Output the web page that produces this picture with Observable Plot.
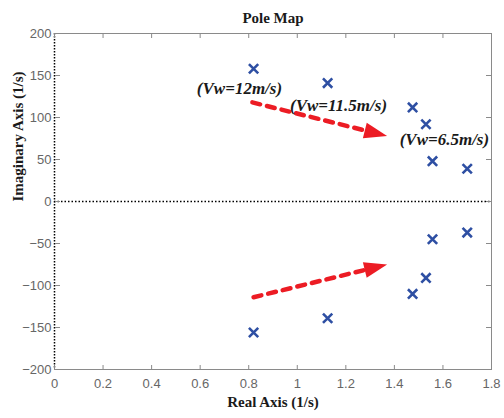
<!DOCTYPE html>
<html><head><meta charset="utf-8">
<script src="https://cdn.jsdelivr.net/npm/d3@7"></script>
<script src="https://cdn.jsdelivr.net/npm/@observablehq/plot@0.6"></script>
<style>body{margin:0;background:#fff}</style>
</head><body><div id="chart"></div>
<script>
// ---- data ----
const poleRe = [0.82, 1.125, 1.475, 1.53, 1.557, 1.70, 0.82, 1.125, 1.475, 1.53, 1.557, 1.70];
const poleIm = [158, 141, 112, 92, 48, 39, -156, -139, -110, -91, -45, -37];
const xTicks = [0, 0.2, 0.4, 0.6, 0.8, 1, 1.2, 1.4, 1.6, 1.8];
const yTicks = [-200, -150, -100, -50, 0, 50, 100, 150, 200];
const labelText = ["(Vw=12m/s)", "(Vw=11.5m/s)", "(Vw=6.5m/s)"];
const labelRe = [0.762, 1.17, 1.606];
const labelIm = [135, 114, 74];
const arrowStartRe = [0.815, 0.82];
const arrowStartIm = [118, -114];
const arrowTipRe = [1.37, 1.37];
const arrowTipIm = [78, -75];
const titleText = "Pole Map";
const xLabel = "Real Axis (1/s)";
const yLabel = "Imaginary Axis (1/s)";

// ---- layout ----
const W = 504, H = 418, mL = 54, mR = 13, mT = 33, mB = 49;
const xDom = [0, 1.8], yDom = [-200, 200];
const kx = (W - mL - mR) / (xDom[1] - xDom[0]);
const ky = (H - mT - mB) / (yDom[1] - yDom[0]);
const shaftFrac = 0.85;

const poles = poleRe.map((x, i) => ({x, y: poleIm[i]}));
const labels = labelText.map((t, i) => ({t, x: labelRe[i], y: labelIm[i]}));
const arrows = arrowStartRe.map((x0, i) => {
  const y0 = arrowStartIm[i], x1 = arrowTipRe[i], y1 = arrowTipIm[i];
  const ang = Math.atan2(-(y1 - y0) * ky, (x1 - x0) * kx) * 180 / Math.PI;
  return {x0, y0, x1, y1, xs: x0 + (x1 - x0) * shaftFrac, ys: y0 + (y1 - y0) * shaftFrac, ang};
});
const head = {draw(ctx) { ctx.moveTo(0, 0); ctx.lineTo(-23, -8); ctx.lineTo(-23, 8); ctx.closePath(); }};

const red = "#ec1c24", blue = "#2e4fa3", gray = "#8a8a8a", tickTxt = "#666";
const serif = "Liberation Serif, Times New Roman, serif";
const sans = "Liberation Sans, Arial, sans-serif";

const chart = Plot.plot({
  width: W, height: H,
  marginLeft: mL, marginRight: mR, marginTop: mT, marginBottom: mB,
  x: {domain: xDom},
  y: {domain: yDom},
  style: {background: "#fff", overflow: "visible"},
  marks: [
    // frame
    Plot.ruleY([yDom[0], yDom[1]], {stroke: gray, strokeWidth: 1}),
    Plot.ruleX([xDom[1]], {stroke: gray, strokeWidth: 1}),
    Plot.ruleX([0], {stroke: "#000", strokeWidth: 1.5, strokeDasharray: "1.5,1.5"}),
    Plot.ruleY([0], {stroke: "#000", strokeWidth: 1.5, strokeDasharray: "1.5,2"}),
    // inward ticks
    Plot.axisX(xTicks, {anchor: "top", frameAnchor: "bottom", tickSize: 5, text: null, label: null, stroke: gray}),
    Plot.axisX(xTicks, {anchor: "bottom", frameAnchor: "top", tickSize: 5, text: null, label: null, stroke: gray}),
    Plot.axisY(yTicks, {anchor: "right", frameAnchor: "left", tickSize: 5, text: null, label: null, stroke: gray}),
    Plot.axisY(yTicks, {anchor: "left", frameAnchor: "right", tickSize: 5, text: null, label: null, stroke: gray}),
    // tick labels
    Plot.axisX(xTicks, {anchor: "bottom", tickSize: 0, tickPadding: 9, label: null, tickFormat: d3.format("~g"), fontSize: 13, fontFamily: sans, color: tickTxt}),
    Plot.axisY(yTicks, {anchor: "left", tickSize: 0, tickPadding: 3, label: null, tickFormat: d3.format("~g"), fontSize: 13, fontFamily: sans, color: tickTxt}),
    // arrows
    Plot.link(arrows, {x1: "x0", y1: "y0", x2: "xs", y2: "ys", stroke: red, strokeWidth: 4.5, strokeDasharray: "8,7", strokeLinecap: "round"}),
    Plot.dot(arrows, {x: "x1", y: "y1", symbol: head, rotate: "ang", fill: red, stroke: "none"}),
    // poles
    Plot.dot(poles, {x: "x", y: "y", symbol: "times", r: 4.3, stroke: blue, strokeWidth: 2.6}),
    // annotations
    Plot.text(labels, {x: "x", y: "y", text: "t", fontFamily: serif, fontWeight: "bold", fontStyle: "italic", fontSize: 17, fill: "#1a1a1a"}),
    // titles
    Plot.text([titleText], {frameAnchor: "top", dy: -21, fontFamily: serif, fontWeight: "bold", fontSize: 15, fill: "#1a1a1a"}),
    Plot.text([xLabel], {frameAnchor: "bottom", dy: 37, fontFamily: serif, fontWeight: "bold", fontSize: 15, fill: "#1a1a1a"}),
    Plot.text([yLabel], {frameAnchor: "left", dx: -36, rotate: -90, fontFamily: serif, fontWeight: "bold", fontSize: 15, fill: "#1a1a1a"})
  ]
});
document.getElementById("chart").appendChild(chart);
</script>
</body></html>
